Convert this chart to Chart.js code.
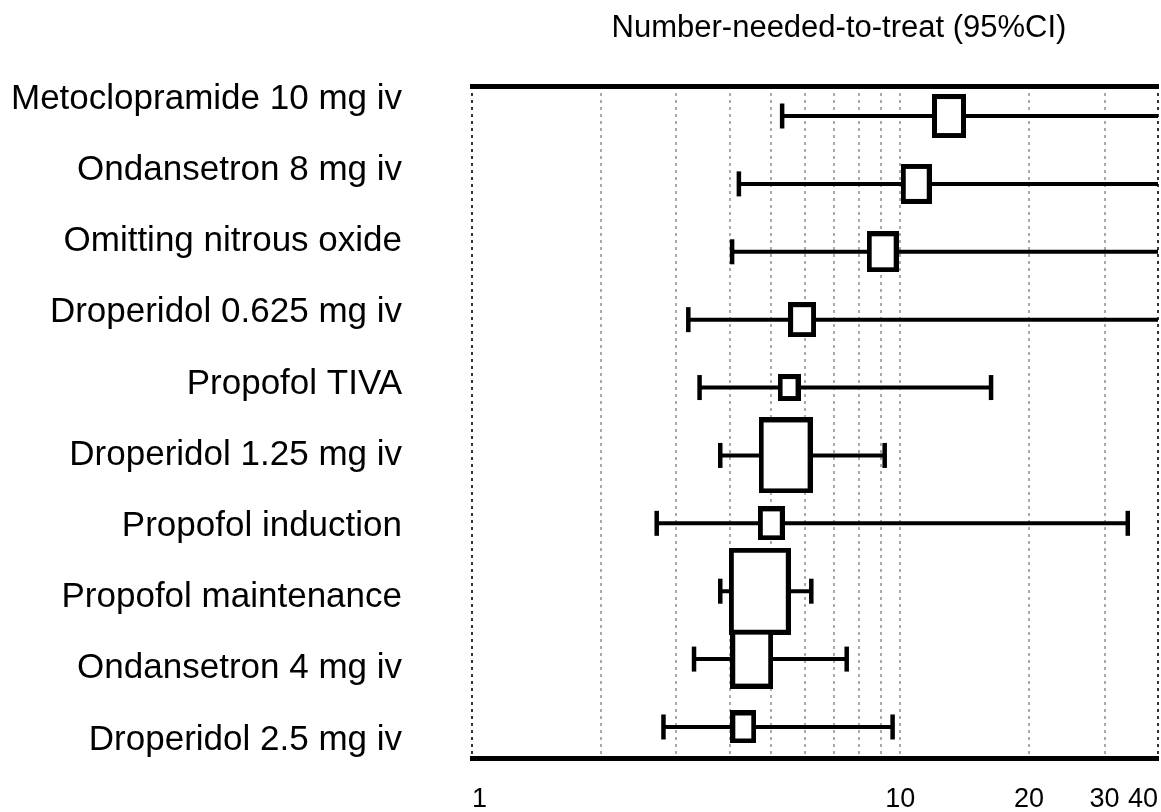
<!DOCTYPE html>
<html>
<head>
<meta charset="utf-8">
<title>Number-needed-to-treat (95%CI)</title>
<script src="https://cdn.jsdelivr.net/npm/chart.js@4"></script>
<style>
  html, body { margin: 0; padding: 0; background: #fff; overflow: hidden; }
  canvas { display: block; }
</style>
</head>
<body>
<canvas id="nntChart" width="1161" height="812"></canvas>
<script>
// values (NNT on a log axis)
const labels = [
    'Metoclopramide 10 mg iv',
    'Ondansetron 8 mg iv',
    'Omitting nitrous oxide',
    'Droperidol 0.625 mg iv',
    'Propofol TIVA',
    'Droperidol 1.25 mg iv',
    'Propofol induction',
    'Propofol maintenance',
    'Ondansetron 4 mg iv',
    'Droperidol 2.5 mg iv'
];
const nnt = [13.0, 10.9, 9.1, 5.9, 5.5, 5.4, 5.0, 4.7, 4.5, 4.3];
const ciLow = [5.3, 4.2, 4.05, 3.2, 3.4, 3.8, 2.7, 3.8, 3.3, 2.8];
const ciHigh = [null, null, null, null, 16.3, 9.2, 34, 6.2, 7.5, 9.6]; // null = beyond the axis
const weight = [51, 46, 47, 40, 31, 87, 39, 100, 68, 38];
const gridValues = [1, 2, 3, 4, 5, 6, 7, 8, 9, 10, 20, 30, 40];
const tickLabels = [1, 10, 20, 30, 40];
const heading = 'Number-needed-to-treat (95%CI)';

const FONT = "Arial, 'Liberation Sans', Helvetica, sans-serif";
const X_MIN = 1;
const X_MAX = 40;

document.addEventListener('DOMContentLoaded', function () {
    const canvas = document.getElementById('nntChart');

    // open box whose size follows the weight
    function boxImage(w) {
        const h = Math.round(w * 0.87);
        const bw = Math.round(h * 0.65 + 5);
        const c = document.createElement('canvas');
        c.width = bw;
        c.height = h;
        const g = c.getContext('2d');
        g.fillStyle = '#fff';
        g.fillRect(0, 0, bw, h);
        g.lineWidth = 5;
        g.strokeStyle = '#000';
        g.strokeRect(2.5, 2.5, bw - 5, h - 5);
        return c;
    }

    const boxes = nnt.map((v, i) => ({ x: v, y: i }));

    const whiskers = [];
    const caps = [];
    labels.forEach((_, i) => {
        whiskers.push({ x: ciLow[i], y: i });
        whiskers.push({ x: ciHigh[i] === null ? X_MAX : ciHigh[i], y: i });
        whiskers.push({ x: ciLow[i], y: null });
        caps.push({ x: ciLow[i], y: i });
        if (ciHigh[i] !== null) caps.push({ x: ciHigh[i], y: i });
    });

    const headingPlugin = {
        id: 'heading',
        afterDraw(chart) {
            const { ctx, chartArea } = chart;
            ctx.save();
            ctx.font = '31px ' + FONT;
            ctx.fillStyle = '#000';
            ctx.textAlign = 'center';
            ctx.textBaseline = 'middle';
            ctx.fillText(heading, (chartArea.left + chartArea.right) / 2 + 24, 28);
            ctx.restore();
        }
    };

    new Chart(canvas, {
        type: 'scatter',
        data: {
            datasets: [{
                label: 'NNT',
                data: boxes,
                xAxisID: 'x',
                yAxisID: 'y',
                pointStyle: weight.map(boxImage),
                radius: 10,
                hoverRadius: 10
            }, {
                label: '95%CI',
                data: whiskers,
                xAxisID: 'x',
                yAxisID: 'y',
                showLine: true,
                spanGaps: false,
                borderColor: '#000',
                borderWidth: 4,
                pointRadius: 0,
                pointHoverRadius: 0
            }, {
                label: 'ends',
                data: caps,
                xAxisID: 'x',
                yAxisID: 'y',
                pointStyle: 'line',
                rotation: 90,
                radius: 12.5,
                hoverRadius: 12.5,
                borderColor: '#000',
                borderWidth: 4.5
            }]
        },
        options: {
            responsive: false,
            animation: false,
            layout: {
                autoPadding: false,
                padding: { left: 0, right: 3, top: 0, bottom: 0 }
            },
            plugins: {
                legend: { display: false },
                tooltip: { enabled: false }
            },
            scales: {
                x: {
                    type: 'logarithmic',
                    position: 'bottom',
                    min: X_MIN,
                    max: X_MAX,
                    afterBuildTicks: (scale) => {
                        scale.ticks = gridValues.map(v => ({ value: v }));
                    },
                    afterFit: (scale) => {
                        scale.height = 54;
                        scale.paddingLeft = 0;
                        scale.paddingRight = 0;
                    },
                    grid: {
                        drawTicks: false,
                        lineWidth: 2,
                        color: (ctx) => (ctx.tick && (ctx.tick.value === X_MIN || ctx.tick.value === X_MAX)) ? '#333' : '#aaa'
                    },
                    border: { display: true, color: '#000', width: 5, dash: [3, 4] },
                    ticks: {
                        autoSkip: false,
                        maxRotation: 0,
                        align: 'inner',
                        padding: 25,
                        color: '#000',
                        font: { family: FONT, size: 27 },
                        callback: (value) => tickLabels.includes(value) ? String(value) : ''
                    }
                },
                xTop: {
                    type: 'logarithmic',
                    position: 'top',
                    min: X_MIN,
                    max: X_MAX,
                    afterFit: (scale) => {
                        scale.height = 86;
                        scale.paddingLeft = 0;
                        scale.paddingRight = 0;
                    },
                    grid: { display: false, drawTicks: false },
                    border: { display: true, color: '#000', width: 5 },
                    ticks: { display: false }
                },
                y: {
                    type: 'linear',
                    display: false,
                    reverse: true,
                    min: -0.442,
                    max: 9.457
                },
                yLab: {
                    type: 'linear',
                    position: 'left',
                    reverse: true,
                    min: -0.182,
                    max: 9.253,
                    afterBuildTicks: (scale) => {
                        scale.ticks = labels.map((_, i) => ({ value: i }));
                    },
                    afterFit: (scale) => {
                        scale.width = 472;
                        scale.paddingTop = 0;
                        scale.paddingBottom = 0;
                    },
                    grid: { display: false, drawTicks: false },
                    border: { display: false },
                    ticks: {
                        color: '#000',
                        padding: 70,
                        font: { family: FONT, size: 35 },
                        callback: (value) => labels[value]
                    }
                }
            }
        },
        plugins: [headingPlugin]
    });
});
</script>
</body>
</html>
